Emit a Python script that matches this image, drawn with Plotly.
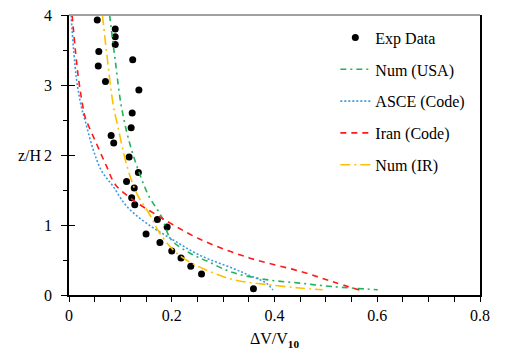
import plotly.graph_objects as go

# Experimental data
exp_x = [0.055, 0.090, 0.090, 0.090, 0.058, 0.124, 0.057, 0.071, 0.136,
         0.123, 0.121, 0.082, 0.087, 0.117, 0.135, 0.112, 0.127, 0.122,
         0.128, 0.172, 0.191, 0.150, 0.177, 0.200, 0.218, 0.237, 0.258, 0.359]
exp_y = [3.93, 3.80, 3.69, 3.58, 3.48, 3.36, 3.27, 3.05, 2.93,
         2.60, 2.39, 2.28, 2.17, 1.97, 1.75, 1.62, 1.53, 1.39,
         1.29, 1.08, 0.97, 0.87, 0.75, 0.63, 0.53, 0.41, 0.30, 0.09]

# Num (USA)
usa_x = [0.079, 0.090, 0.102, 0.118, 0.137, 0.155, 0.180, 0.199, 0.235, 0.270, 0.319, 0.384, 0.449, 0.513, 0.601]
usa_y = [4.00, 3.35, 2.69, 2.17, 1.74, 1.42, 1.12, 0.79, 0.60, 0.48, 0.32, 0.22, 0.17, 0.12, 0.076]

# ASCE (Code)
asce_x = [0.004, 0.014, 0.024, 0.031, 0.047, 0.063, 0.086, 0.112, 0.150, 0.202, 0.254, 0.319, 0.351, 0.384, 0.397]
asce_y = [4.00, 3.12, 2.69, 2.50, 2.08, 1.78, 1.55, 1.27, 1.03, 0.79, 0.57, 0.38, 0.28, 0.17, 0.07]

# Iran (Code)
iran_x = [0.006, 0.018, 0.027, 0.031, 0.053, 0.073, 0.090, 0.124, 0.176, 0.254, 0.351, 0.449, 0.513, 0.565]
iran_y = [4.00, 3.12, 2.69, 2.55, 2.17, 1.84, 1.58, 1.36, 1.12, 0.80, 0.53, 0.34, 0.19, 0.07]

# Num (IR)
ir_x = [0.065, 0.075, 0.086, 0.095, 0.108, 0.121, 0.134, 0.157, 0.176, 0.202, 0.222, 0.260, 0.319, 0.384, 0.449, 0.494]
ir_y = [4.00, 3.35, 2.72, 2.41, 1.98, 1.65, 1.42, 1.15, 0.89, 0.65, 0.53, 0.38, 0.22, 0.15, 0.10, 0.075]

x_ticks = [0, 0.2, 0.4, 0.6, 0.8]
x_tick_labels = ["0", "0.2", "0.4", "0.6", "0.8"]
y_ticks = [0, 1, 2, 3, 4]
y_tick_labels = ["0", "1", "2", "3", "4"]

FONT = "Times New Roman, Times, Liberation Serif, Tinos, Nimbus Roman, DejaVu Serif, serif"

fig = go.Figure()
fig.add_trace(go.Scatter(x=exp_x, y=exp_y, mode="markers", name="Exp Data",
                         marker=dict(color="black", size=7), legendgroup="a"))
fig.add_trace(go.Scatter(x=usa_x, y=usa_y, mode="lines", name="Num (USA)", line_shape="spline",
                         line=dict(color="#1fb45a", width=1.6, dash="6px,4px,2px,4px"), legendgroup="b"))
fig.add_trace(go.Scatter(x=asce_x, y=asce_y, mode="lines", name="ASCE (Code)", line_shape="spline",
                         line=dict(color="#3a9be0", width=1.6, dash="2px,2px"), legendgroup="c"))
fig.add_trace(go.Scatter(x=iran_x, y=iran_y, mode="lines", name="Iran (Code)", line_shape="spline",
                         line=dict(color="#ff1a1a", width=1.6, dash="6px,5px"), legendgroup="d"))
fig.add_trace(go.Scatter(x=ir_x, y=ir_y, mode="lines", name="Num (IR)", line_shape="spline",
                         line=dict(color="#ffc000", width=1.6, dash="10px,4px,2px,4px"), legendgroup="e"))
# invisible trace on overlay axis to carry the inner half of the major y ticks
fig.add_trace(go.Scatter(x=[None], y=[None], yaxis="y2", showlegend=False, hoverinfo="skip"))

fig.update_layout(
    width=505, height=354,
    margin=dict(l=69, r=25, t=15, b=59),
    plot_bgcolor="white", paper_bgcolor="white",
    font=dict(family=FONT, size=16, color="black"),
    showlegend=True,
    legend=dict(x=0.648, y=0.98, xanchor="left", yanchor="top",
                font=dict(family=FONT, size=16), itemwidth=30,
                tracegroupgap=8, traceorder="grouped", bgcolor="rgba(0,0,0,0)"),
    xaxis=dict(range=[0, 0.8], tickvals=x_ticks, ticktext=x_tick_labels, automargin=False,
               showgrid=False, zeroline=False, showline=True, linecolor="black", linewidth=1.5,
               ticks="outside", ticklen=5, tickcolor="black",
               minor=dict(dtick=0.05, ticks="outside", ticklen=5, tickcolor="black"),
               title=dict(text="ΔV/V<sub><b>10</b></sub>", font=dict(family=FONT, size=16), standoff=10)),
    yaxis=dict(range=[0, 4], tickvals=y_ticks, ticktext=y_tick_labels, automargin=False,
               showgrid=False, zeroline=False, showline=True, linecolor="black", linewidth=1.5,
               mirror=True, ticks="outside", ticklen=6, tickcolor="black",
               minor=dict(dtick=0.5, ticks="outside", ticklen=4, tickcolor="black"),
               ticklabelstandoff=6),
    yaxis2=dict(range=[0, 4], overlaying="y", side="left", tickvals=y_ticks, showticklabels=False,
                ticks="inside", ticklen=6, tickcolor="black", showgrid=False, zeroline=False,
                showline=False, automargin=False),
    annotations=[dict(text="z/H", x=-0.061, y=2, xref="paper", yref="y",
                      xanchor="right", yanchor="middle", showarrow=False,
                      font=dict(family=FONT, size=16))],
    shapes=[dict(type="line", xref="paper", yref="paper", x0=0, x1=1, y0=1, y1=1,
                 line=dict(color="#a0a0a0", width=2))],
)

fig.write_html("out.html", config={"displayModeBar": False},
               post_script="document.body.style.margin='0';")
